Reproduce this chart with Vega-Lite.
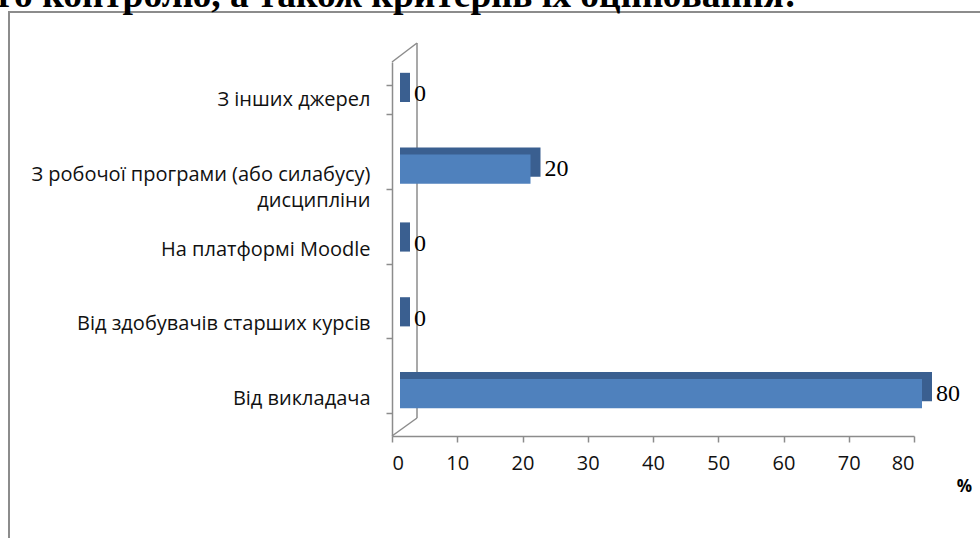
{
  "$schema": "https://vega.github.io/schema/vega-lite/v6.json",
  "autosize": {"type": "none"},
  "padding": {"left": 9, "top": 12, "right": 0, "bottom": 0},
  "width": 980,
  "height": 540,
  "background": "white",
  "data": {
    "values": [
      {"source": "З інших джерел", "value": 0},
      {"source": "З робочої програми (або силабусу) дисципліни", "value": 20},
      {"source": "На платформі Moodle", "value": 0},
      {"source": "Від здобувачів старших курсів", "value": 0},
      {"source": "Від викладача", "value": 80}
    ]
  },
  "layer": [
    {
      "data": {"values": [{"heading": "го контролю, а також критеріїв їх оцінювання:"}]},
      "layer": [
        {
          "mark": {"type": "rule", "color": "#8c8c8c", "strokeWidth": 1.5, "xOffset": 25, "yOffset": -18, "y2Offset": -19},
          "encoding": {
            "x": {"datum": 0, "type": "quantitative", "title": "%"},
            "y": {"datum": 0, "type": "quantitative", "scale": {"domain": [0, 1], "range": [424, 50]}, "axis": null},
            "y2": {"datum": 1}
          }
        },
        {
          "mark": {"type": "rule", "color": "#8c8c8c", "strokeWidth": 1.5, "x2Offset": 25, "y2Offset": -18},
          "encoding": {
            "x": {"datum": 0, "type": "quantitative", "title": "%"},
            "x2": {"datum": 0},
            "y": {"datum": 0, "type": "quantitative", "scale": {"domain": [0, 1], "range": [424, 50]}, "axis": null},
            "y2": {"datum": 0}
          }
        },
        {
          "mark": {"type": "rule", "color": "#8c8c8c", "strokeWidth": 1.5, "x2Offset": 25, "y2Offset": -19},
          "encoding": {
            "x": {"datum": 0, "type": "quantitative", "title": "%"},
            "x2": {"datum": 0},
            "y": {"datum": 1, "type": "quantitative", "scale": {"domain": [0, 1], "range": [424, 50]}, "axis": null},
            "y2": {"datum": 1}
          }
        },
        {
          "mark": {"type": "text", "align": "left", "baseline": "alphabetic", "dx": -394, "dy": -55, "font": "Liberation Serif", "fontSize": 37.5, "fontWeight": "bold", "color": "#000000"},
          "encoding": {
            "x": {"datum": 0, "type": "quantitative", "title": "%"},
            "y": {"datum": 1, "type": "quantitative", "scale": {"domain": [0, 1], "range": [424, 50]}, "axis": null},
            "text": {"field": "heading", "type": "nominal"}
          }
        }
      ]
    },
    {
      "encoding": {
        "y": {
          "field": "source",
          "type": "nominal",
          "sort": null,
          "scale": {
            "domain": ["З інших джерел", "З робочої програми (або силабусу) дисципліни", "На платформі Moodle", "Від здобувачів старших курсів", "Від викладача"],
            "range": [50, 424],
            "paddingInner": 0.61,
            "paddingOuter": 0.305
          },
          "axis": {
            "title": null,
            "offset": -383,
            "tickBand": "extent",
            "domainColor": "#8c8c8c",
            "domainWidth": 1.5,
            "tickColor": "#8c8c8c",
            "tickWidth": 1.5,
            "tickSize": 6,
            "labelFont": "Open Sans",
            "labelFontSize": 20,
            "labelColor": "#111111",
            "labelPadding": 16,
            "labelLimit": 500,
            "labelLineHeight": 26,
            "labelExpr": "datum.value == 'З робочої програми (або силабусу) дисципліни' ? ['З робочої програми (або силабусу)', 'дисципліни\u2003\u2003\u2003\u2003\u2003\u2003\u2002'] : datum.value"
          }
        }
      },
      "layer": [
        {
          "mark": {"type": "bar", "color": "#3a5f90", "xOffset": 18, "x2Offset": 8, "yOffset": -12},
          "encoding": {
            "x": {
              "field": "value",
              "type": "quantitative",
              "stack": null,
              "title": "%",
              "scale": {"domain": [0, 80], "range": [383, 905], "nice": false, "zero": true},
              "axis": {
                "offset": -116,
                "values": [0, 10, 20, 30, 40, 50, 60, 70, 80],
                "grid": false,
                "domainColor": "#8c8c8c",
                "domainWidth": 1.5,
                "tickColor": "#8c8c8c",
                "tickWidth": 1.5,
                "tickSize": 6,
                "labelFont": "Open Sans",
                "labelFontSize": 20,
                "labelColor": "#111111",
                "labelPadding": 11,
                "titleFont": "Open Sans",
                "titleFontSize": 17,
                "titleFontWeight": "bold",
                "titleColor": "#000000",
                "titleX": 955,
                "titleY": 50,
                "titleAlign": "center",
                "titleBaseline": "middle"
              }
            },
            "x2": {"datum": 0}
          }
        },
        {
          "mark": {"type": "bar", "color": "#4f81bd", "xOffset": 8, "x2Offset": 8, "yOffset": -5},
          "encoding": {
            "x": {"field": "value", "type": "quantitative", "stack": null, "title": "%"},
            "x2": {"datum": 0}
          }
        },
        {
          "mark": {"type": "text", "align": "left", "baseline": "middle", "dx": 22, "dy": -5, "font": "Liberation Serif", "fontSize": 24, "color": "#000000"},
          "encoding": {
            "x": {"field": "value", "type": "quantitative", "title": "%"},
            "text": {"field": "value", "type": "quantitative"}
          }
        }
      ]
    }
  ],
  "resolve": {"scale": {"y": "independent"}},
  "config": {
    "view": {"stroke": "#8c8c8c", "strokeWidth": 2}
  }
}
